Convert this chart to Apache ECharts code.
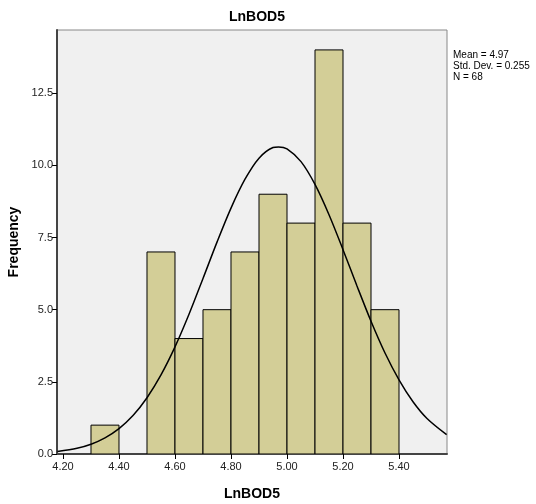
<!DOCTYPE html>
<html>
<head>
<meta charset="utf-8">
<script src="https://cdn.jsdelivr.net/npm/echarts@6/dist/echarts.min.js"></script>
<style>
  html, body { margin: 0; padding: 0; background: #fff; }
  #chart { width: 536px; height: 504px; }
</style>
</head>
<body>
<div id="chart"></div>
<script>
// histogram bins (lower edge, width 0.1) and counts
var binStarts = [4.30, 4.40, 4.50, 4.60, 4.70, 4.80, 4.90, 5.00, 5.10, 5.20, 5.30];
var binCounts = [1, 0, 7, 4, 5, 7, 9, 8, 14, 8, 5];
var binWidth = 0.1;

// normal curve
var curveX = [4.18, 4.25, 4.30, 4.35, 4.40, 4.45, 4.50, 4.55, 4.60, 4.65, 4.70, 4.75, 4.80, 4.85, 4.90, 4.95, 4.97, 5.00, 5.05, 5.10, 5.15, 5.20, 5.25, 5.30, 5.35, 5.40, 5.45, 5.50, 5.57];
var curveY = [0.09, 0.20, 0.34, 0.56, 0.88, 1.33, 1.95, 2.74, 3.71, 4.84, 6.08, 7.34, 8.52, 9.52, 10.25, 10.62, 10.64, 10.57, 10.13, 9.34, 8.29, 7.08, 5.82, 4.60, 3.50, 2.57, 1.81, 1.23, 0.67];

var xTicks = [4.20, 4.40, 4.60, 4.80, 5.00, 5.20, 5.40];
var yTicks = [0, 2.5, 5.0, 7.5, 10.0, 12.5];
var statsText = ['Mean = 4.97', 'Std. Dev. = 0.255', 'N = 68'];

var chart = echarts.init(document.getElementById('chart'));

var bars = binStarts.map(function (s, i) { return [s, s + binWidth, binCounts[i]]; })
    .filter(function (d) { return d[2] > 0; });
var curve = curveX.map(function (x, i) { return [x, curveY[i]]; });

var font = 'Liberation Sans, Arial, sans-serif';

var option = {
    animation: false,
    title: {
        text: 'LnBOD5',
        left: 252,
        textAlign: 'center',
        top: 5,
        textStyle: { fontFamily: font, fontSize: 14, fontWeight: 'bold', color: '#000' }
    },
    graphic: [{
        type: 'text',
        left: 453,
        top: 50,
        style: {
            text: statsText.join('\n'),
            font: '10px ' + font,
            lineHeight: 11,
            fill: '#000'
        }
    }],
    grid: {
        left: 57, top: 30, width: 390, height: 424,
        containLabel: false,
        outerBoundsMode: 'none',
        show: true,
        backgroundColor: '#F0F0F0',
        borderColor: '#888',
        borderWidth: 1
    },
    xAxis: {
        type: 'value',
        min: 4.1786, max: 5.5714,
        name: 'LnBOD5',
        nameLocation: 'middle',
        nameGap: 33,
        nameTextStyle: { fontFamily: font, fontSize: 14, fontWeight: 'bold', color: '#000' },
        axisLine: { show: true, onZero: false, lineStyle: { color: '#444', width: 2 } },
        axisTick: { show: true, length: 5, customValues: xTicks, lineStyle: { color: '#000' } },
        axisLabel: {
            customValues: xTicks,
            fontFamily: font, fontSize: 11, color: '#222', margin: 7,
            formatter: function (v) { return v.toFixed(2); }
        },
        splitLine: { show: false }
    },
    yAxis: {
        type: 'value',
        min: 0, max: 14.69,
        name: 'Frequency',
        nameLocation: 'middle',
        nameGap: 35,
        nameRotate: 90,
        nameTextStyle: { fontFamily: font, fontSize: 14, fontWeight: 'bold', color: '#000' },
        axisLine: { show: true, lineStyle: { color: '#444', width: 2 } },
        axisTick: { show: true, length: 5, customValues: yTicks, lineStyle: { color: '#000' } },
        axisLabel: {
            customValues: yTicks,
            fontFamily: font, fontSize: 11, color: '#222', margin: 4,
            formatter: function (v) { return v.toFixed(1); }
        },
        splitLine: { show: false }
    },
    series: [
        {
            type: 'custom',
            data: bars,
            clip: true,
            renderItem: function (params, api) {
                var p0 = api.coord([api.value(0), 0]);
                var p1 = api.coord([api.value(1), api.value(2)]);
                return {
                    type: 'rect',
                    shape: { x: p0[0], y: p1[1], width: p1[0] - p0[0], height: p0[1] - p1[1] },
                    style: { fill: '#D3CE97', stroke: '#000', lineWidth: 1 }
                };
            }
        },
        {
            type: 'line',
            data: curve,
            smooth: 0.3,
            showSymbol: false,
            clip: true,
            lineStyle: { color: '#000', width: 1.5 },
            z: 5
        }
    ]
};

chart.setOption(option);
</script>
</body>
</html>
